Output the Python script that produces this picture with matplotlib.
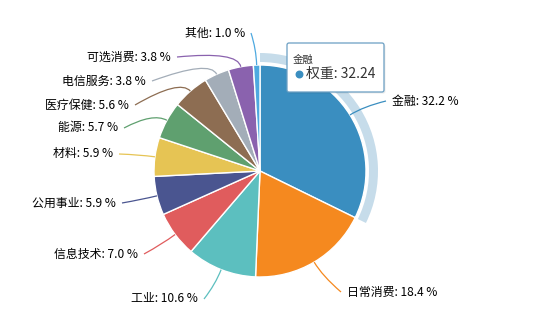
import numpy as np
import matplotlib
matplotlib.use("Agg")
import matplotlib.pyplot as plt
from matplotlib.patches import Wedge, FancyBboxPatch, PathPatch
from matplotlib.path import Path

plt.rcParams['font.family'] = ['Noto Sans CJK SC', 'DejaVu Sans']

# Sector weights in percent (clockwise from 12 o'clock)
sectors = ['金融', '日常消费', '工业', '信息技术', '公用事业', '材料',
           '能源', '医疗保健', '电信服务', '可选消费', '其他']
weights = [32.24, 18.4, 10.6, 7.0, 5.9, 5.9, 5.7, 5.6, 3.8, 3.8, 1.0]
colors = ['#3a8ec0', '#f5891f', '#5cbfbf', '#e05c5d', '#4a5590', '#e6c454',
          '#5fa06f', '#8d6d52', '#a3adb8', '#8a62ae', '#4ea9e0']

# Label line end points in pixel space (x, y) and which side the text sits on
label_ends = [(386, 101), (341, 292), (204, 299), (144, 254), (122, 203),
              (119, 154), (124, 128), (135, 105), (152, 81), (177, 57), (251, 33)]
label_side = ['r', 'r', 'l', 'l', 'l', 'l', 'l', 'l', 'l', 'l', 'l']

W, H = 542, 324
cx, cy, R = 260, H - 171, 106

fig = plt.figure(figsize=(W / 100, H / 100), dpi=100)
ax = fig.add_axes([0, 0, 1, 1])

total = sum(weights)
wedges, _ = ax.pie(weights, colors=colors, startangle=90, counterclock=False,
                   center=(cx, cy), radius=R,
                   wedgeprops=dict(edgecolor='white', linewidth=1.0))
ax.set_xlim(0, W)
ax.set_ylim(0, H)
ax.set_aspect('equal')
ax.axis('off')

# Emphasis ring around the highlighted sector
frac0 = weights[0] / total
ring = Wedge((cx, cy), R + 12, 90 - 360 * frac0, 90, width=9,
             facecolor='#c6dcea', edgecolor='none', zorder=0)
ax.add_patch(ring)

cum = 0.0
for name, w, col, (ex, ey), side in zip(sectors, weights, colors, label_ends, label_side):
    mid = (cum + w / 2) / total
    cum += w
    th = np.deg2rad(90 - 360 * mid)
    p0 = (cx + R * np.cos(th), cy + R * np.sin(th))
    pc = (cx + (R + 16) * np.cos(th), cy + (R + 16) * np.sin(th))
    p1 = (ex, H - ey)
    path = Path([p0, pc, p1], [Path.MOVETO, Path.CURVE3, Path.CURVE3])
    ax.add_patch(PathPatch(path, facecolor='none', edgecolor=col, linewidth=0.9, zorder=3))
    txt = f'{name}: {w:.1f} %'
    if side == 'r':
        ax.text(ex + 6, H - ey, txt, ha='left', va='center', fontsize=8.6, color='#000000')
    else:
        ax.text(ex - 6, H - ey, txt, ha='right', va='center', fontsize=8.6, color='#000000')

# Tooltip for the highlighted sector
bx0, by0, bx1, by1 = 287, 43, 384, 92
shadow = FancyBboxPatch((bx0 + 1.5, H - by1 - 1.5), bx1 - bx0, by1 - by0,
                        boxstyle='round,pad=0,rounding_size=2',
                        facecolor='#000000', alpha=0.08, edgecolor='none', zorder=5)
ax.add_patch(shadow)
box = FancyBboxPatch((bx0, H - by1), bx1 - bx0, by1 - by0,
                     boxstyle='round,pad=0,rounding_size=2',
                     facecolor='white', edgecolor='#6a9fc3', linewidth=0.9, zorder=6)
ax.add_patch(box)
ax.text(293, H - 60, sectors[0], ha='left', va='center', fontsize=7.5,
        color='#333333', zorder=7)
ax.scatter([299], [H - 74], s=22, color=colors[0], zorder=7)
ax.text(306, H - 74, f'权重: {weights[0]:.2f}', ha='left', va='center',
        fontsize=10, color='#333333', zorder=7)

fig.savefig('out.png', dpi=100)
